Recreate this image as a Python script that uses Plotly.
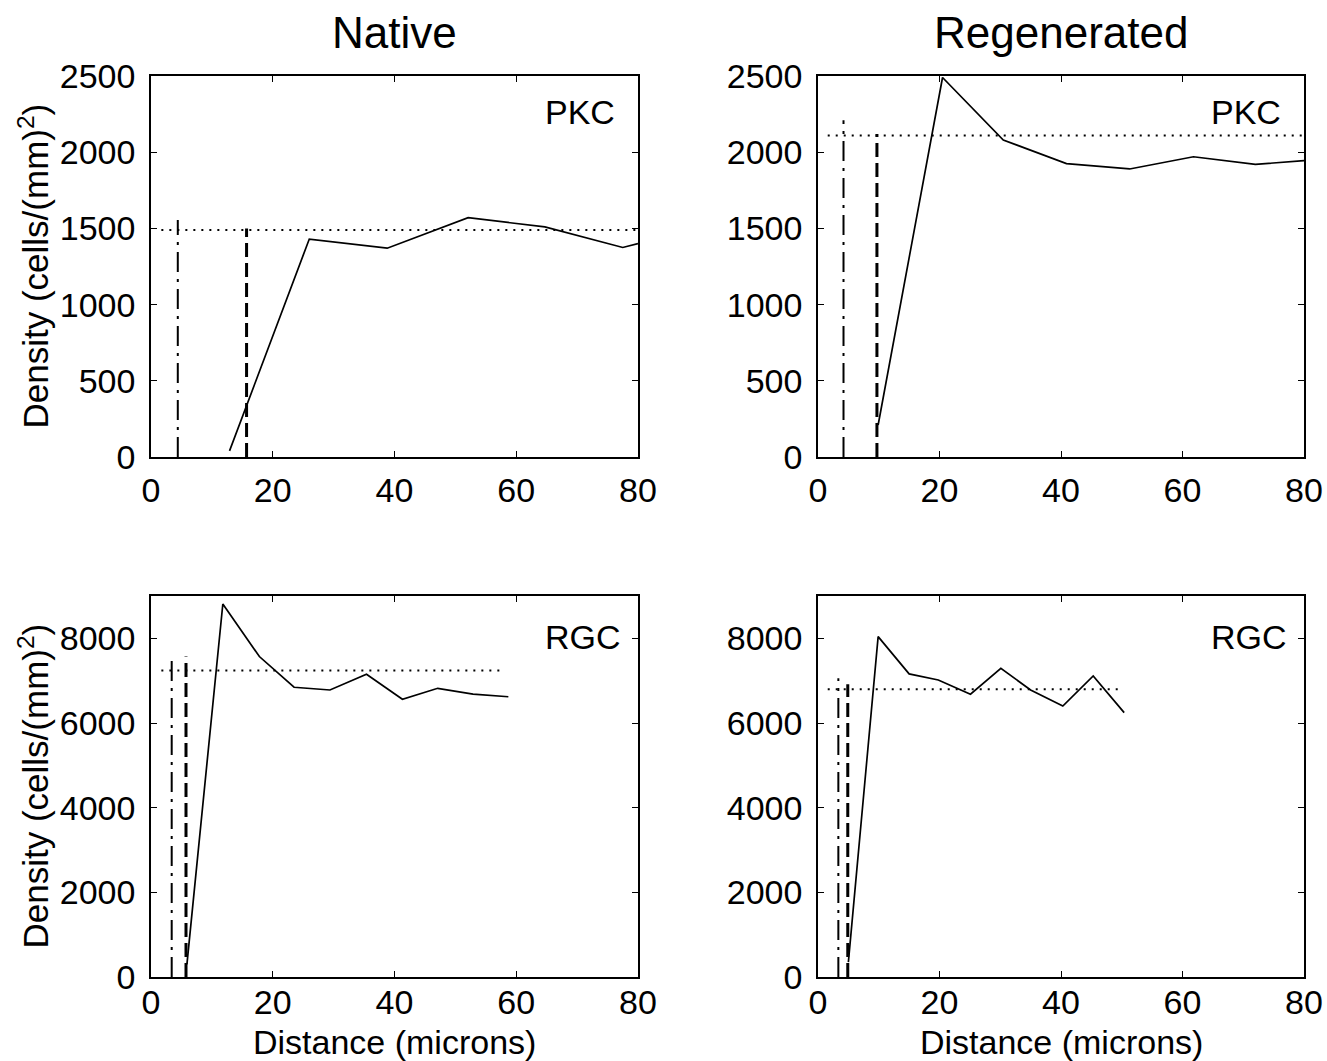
import plotly.graph_objects as go

# ---------------- data ----------------
native_pkc_x = [12.9, 26.0, 38.8, 52.1, 64.7, 77.5, 80.0]
native_pkc_y = [40, 1430, 1370, 1570, 1510, 1375, 1400]
regen_pkc_x = [9.9, 20.5, 30.5, 40.9, 51.3, 61.8, 72.0, 80.0]
regen_pkc_y = [210, 2490, 2080, 1925, 1890, 1970, 1920, 1945]
native_rgc_x = [5.9, 11.8, 17.8, 23.5, 29.4, 35.4, 41.3, 47.1, 52.9, 58.7]
native_rgc_y = [300, 8810, 7570, 6845, 6780, 7150, 6560, 6820, 6680, 6620]
regen_rgc_x = [5.0, 9.9, 15.0, 19.8, 25.1, 30.1, 35.0, 40.3, 45.3, 50.4]
regen_rgc_y = [350, 8040, 7160, 7015, 6680, 7290, 6780, 6400, 7110, 6245]

# mean density (dotted): value, x start, x end
mean_levels = [1490, 2110, 7240, 6800]
mean_x_start = [1.7, 1.6, 1.7, 1.6]
mean_x_end = [80.0, 80.0, 57.6, 49.7]

# dash-dot vertical markers: x position, top
dashdot_x = [4.4, 4.2, 3.4, 3.35]
dashdot_top = [1555, 2210, 7570, 7060]
# dashed vertical markers: x position, top
dashed_x = [15.7, 9.7, 5.75, 4.9]
dashed_top = [1500, 2120, 7570, 6915]

column_titles = ["Native", "Regenerated"]
panel_labels = ["PKC", "PKC", "RGC", "RGC"]
x_ticks = [0, 20, 40, 60, 80]
y_ticks_pkc = [0, 500, 1000, 1500, 2000, 2500]
y_ticks_rgc = [0, 2000, 4000, 6000, 8000]

series_x = [native_pkc_x, regen_pkc_x, native_rgc_x, regen_rgc_x]
series_y = [native_pkc_y, regen_pkc_y, native_rgc_y, regen_rgc_y]

# ---------------- layout geometry ----------------
W, H = 1327, 1061


def fx(px):
    return px / W


def fy(py):
    return 1 - py / H


xdom = [[fx(151), fx(638)], [fx(818), fx(1304)]]
ydom = [[fy(457), fy(76)], [fy(977), fy(596)]]

FONT = "Liberation Sans, Arial, Helvetica, sans-serif"
fig = go.Figure()

for i in range(4):
    row, col = divmod(i, 2)
    sfx = "" if i == 0 else str(i + 1)
    xa, ya = "x" + sfx, "y" + sfx
    # solid data
    fig.add_trace(go.Scatter(x=series_x[i], y=series_y[i], mode="lines",
                             line=dict(color="black", width=1.7),
                             xaxis=xa, yaxis=ya, hoverinfo="skip"))
    # dotted mean
    fig.add_trace(go.Scatter(x=[mean_x_start[i], mean_x_end[i]],
                             y=[mean_levels[i], mean_levels[i]], mode="lines",
                             line=dict(color="black", width=2, dash="2px,6px"),
                             xaxis=xa, yaxis=ya, hoverinfo="skip"))
    # dash-dot vertical
    fig.add_trace(go.Scatter(x=[dashdot_x[i], dashdot_x[i]], y=[0, dashdot_top[i]],
                             mode="lines",
                             line=dict(color="black", width=2, dash="20px,7px,3px,7px"),
                             xaxis=xa, yaxis=ya, hoverinfo="skip"))
    # dashed vertical
    fig.add_trace(go.Scatter(x=[dashed_x[i], dashed_x[i]], y=[0, dashed_top[i]],
                             mode="lines",
                             line=dict(color="black", width=3, dash="14px,6px"),
                             xaxis=xa, yaxis=ya, hoverinfo="skip"))

    axis_common = dict(showgrid=False, zeroline=False, showline=True, linecolor="black",
                       linewidth=1.5, mirror="ticks", ticks="inside", ticklen=6,
                       tickwidth=1.2, tickcolor="black", automargin=False,
                       tickfont=dict(family=FONT, size=34, color="black"))
    fig.update_layout(**{
        ("xaxis" + sfx): dict(domain=xdom[col], range=[0, 80], tickvals=x_ticks,
                              anchor=ya, ticklabelstandoff=2 if row == 0 else -6,
                              **axis_common),
        ("yaxis" + sfx): dict(domain=ydom[row],
                              range=[0, 2500] if row == 0 else [0, 9000],
                              tickvals=y_ticks_pkc if row == 0 else y_ticks_rgc,
                              anchor=xa, ticklabelstandoff=7, **axis_common),
    })
    # panel label
    fig.add_annotation(text=panel_labels[i], xref=xa + " domain", yref=ya + " domain",
                       x=0.804, y=0.906 if row == 0 else 0.892, xanchor="left",
                       yanchor="middle", showarrow=False,
                       font=dict(family=FONT, size=34, color="black"))

# column titles
for c in range(2):
    fig.add_annotation(text=column_titles[c], xref="paper", yref="paper",
                       x=sum(xdom[c]) / 2, y=fy(32), xanchor="center", yanchor="middle",
                       showarrow=False, font=dict(family=FONT, size=44, color="black"))
    fig.add_annotation(text="Distance (microns)", xref="paper", yref="paper",
                       x=sum(xdom[c]) / 2, y=fy(1042), xanchor="center", yanchor="middle",
                       showarrow=False, font=dict(family=FONT, size=34, color="black"))
# y titles
for r in range(2):
    fig.add_annotation(text="Density (cells/(mm)<sup>2</sup>)", xref="paper", yref="paper",
                       x=fx(34), y=sum(ydom[r]) / 2, xanchor="center", yanchor="middle",
                       textangle=-90, showarrow=False,
                       font=dict(family=FONT, size=35, color="black"))

fig.update_layout(width=W, height=H, margin=dict(l=0, r=0, t=0, b=0),
                  paper_bgcolor="white", plot_bgcolor="white", showlegend=False)

# remove the default 8px page margin so the figure fills the window exactly
fig.write_html("out.html",
               config={"displayModeBar": False},
               post_script="document.body.style.margin='0px';"
                           "document.body.style.overflow='hidden';")
